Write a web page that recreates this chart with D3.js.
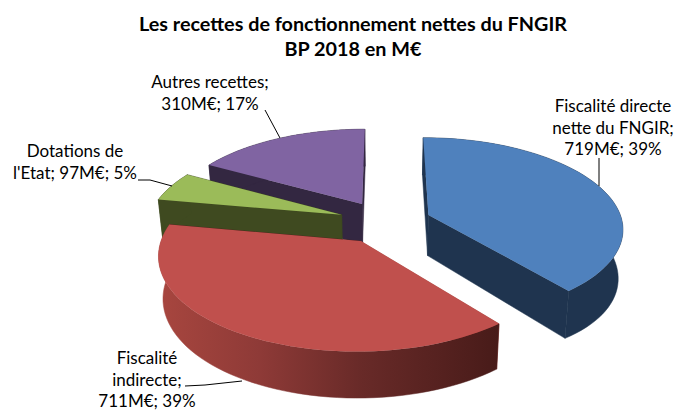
<!DOCTYPE html>
<html><head><meta charset="utf-8">
<script src="https://cdn.jsdelivr.net/npm/d3@7/dist/d3.min.js"></script>
<style>html,body{margin:0;background:#fff}svg{display:block}text{font-family:Lato,"Open Sans",sans-serif;fill:#000}</style>
</head><body><svg id="c" width="677" height="410"></svg>
<script>
const categories = ["Fiscalité directe nette du FNGIR","Fiscalité indirecte","Dotations de l'Etat","Autres recettes"];
const values = [719,711,97,310];
const percents = [39,39,5,17];
const titleLines = ["Les recettes de fonctionnement nettes du FNGIR","BP 2018 en M€"];

const topColors = ["#4f81bd","#c0504d","#9bbb59","#8064a2"];
const wallColors = ["#1f344f","url(#redWall)","#3f4a20","#332741"];
const cx=385, cy=222, R=194, b=89.6, k=0.137, depth=41, explode=0.24, shrink=0.98;
const rad=Math.PI/180;

const svg=d3.select("#c");
const defs=svg.append("defs");
const g=defs.append("linearGradient").attr("id","redWall").attr("gradientUnits","userSpaceOnUse")
  .attr("x1",158).attr("x2",498).attr("y1",0).attr("y2",0);
[[0,"#a8463f"],[0.3,"#8e3a37"],[0.6,"#682a28"],[1,"#481b19"]].forEach(s=>g.append("stop").attr("offset",s[0]).attr("stop-color",s[1]));

const pie=d3.pie().sort(null).startAngle(0).endAngle(360*rad);
const arcs=pie(values);
const line=d3.line();

function project(a,r,mid,z){
  const U=r*Math.sin(a)+explode*Math.sin(mid), V=-r*Math.cos(a)-explode*Math.cos(mid);
  const s=1/(1-k*V);
  const x=R*U*s, y=b*V*s;
  const wallDepth=depth*s*(1+0.3*Math.max(0,U-0.6));
  return z ? [cx+x*shrink, cy+y*shrink+wallDepth] : [cx+x, cy+y];
}
function rim(d,mid,z){
  return d3.range(0,61).map(i=>project(d.startAngle+(d.endAngle-d.startAngle)*i/60,1,mid,z));
}
const order=[3,2,0,1];
order.forEach(i=>{
  const d=arcs[i], mid=(d.startAngle+d.endAngle)/2;
  const top=rim(d,mid,false), bot=rim(d,mid,true);
  const c0=project(0,0,mid,false), c1=project(0,0,mid,true);
  const sl=svg.append("g");
  const wall=i==1?null:wallColors[i];
  sl.append("path").attr("d",line([c0,top[60],bot[60],c1])+"Z").attr("fill",wall||"#481b19").attr("stroke",wall||"#481b19").attr("stroke-width",0.5);
  sl.append("path").attr("d",line([c0,top[0],bot[0],c1])+"Z").attr("fill",wall||"#a8463f").attr("stroke",wall||"#a8463f").attr("stroke-width",0.5);
  sl.append("path").attr("d",line(top.concat(bot.slice().reverse()))+"Z").attr("fill",wallColors[i]).attr("stroke",wallColors[i]).attr("stroke-width",0.5);
  sl.append("path").attr("d",line([c0].concat(top))+"Z").attr("fill",topColors[i]);
});

svg.append("g").selectAll("text").data(titleLines).join("text")
  .attr("x",353).attr("y",(d,i)=>31+i*25).attr("text-anchor","middle")
  .attr("font-size",19.8).attr("font-weight",700).text(d=>d);

const labelLines=[
  [`Fiscalité directe`,`nette du FNGIR;`,`${values[0]}M€; ${percents[0]}%`],
  [`Fiscalité`,`indirecte;`,`${values[1]}M€; ${percents[1]}%`],
  [`Dotations de`,`l'Etat; ${values[2]}M€; ${percents[2]}%`],
  [`Autres recettes;`,`${values[3]}M€; ${percents[3]}%`]
];
const labelAt=[[613,112],[147,364],[75,157],[210,88]];
labelLines.forEach((ls,i)=>{
  svg.append("g").selectAll("text").data(ls).join("text")
    .attr("x",labelAt[i][0]).attr("y",(d,j)=>labelAt[i][1]+j*21.7)
    .attr("text-anchor","middle").attr("font-size",17).text(d=>d);
});
const leaders=[[[599,158],[599,186]],[[185,386],[205,385],[242,381]],[[138,180],[150,180],[172,186]],[[265,110],[280,138]]];
leaders.forEach(l=>svg.append("path").attr("d",line(l)).attr("fill","none").attr("stroke","#000").attr("stroke-width",1));
</script></body></html>
